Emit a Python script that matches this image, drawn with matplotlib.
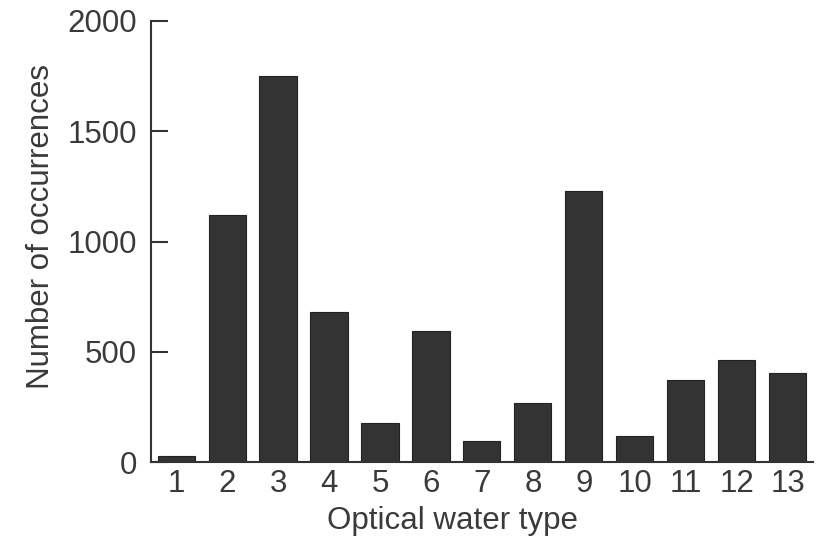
import matplotlib
matplotlib.use('Agg')
import matplotlib.pyplot as plt

# occurrences of each optical water type
water_types = list(range(1, 14))
occurrences = [30, 1122, 1750, 680, 177, 594, 95, 268, 1228, 118, 372, 462, 403]
yticks = [0, 500, 1000, 1500, 2000]

plt.rcParams['font.family'] = ['Liberation Sans', 'DejaVu Sans']
text_color = '#3a3a3a'
fs = 22.5

fig = plt.figure(figsize=(8.28, 5.38), dpi=100)
ax = fig.add_axes([0.182, 0.141, 0.800, 0.820])

ax.bar(water_types, occurrences, width=0.73, color='#333333',
       edgecolor='#222222', linewidth=0.8)

ax.set_xlim(0.5, 13.5)
ax.set_ylim(0, 2000)
ax.set_xticks(water_types)
ax.set_yticks(yticks)

for side in ['top', 'right']:
    ax.spines[side].set_visible(False)
for side in ['left', 'bottom']:
    ax.spines[side].set_color('#333333')
    ax.spines[side].set_linewidth(1.5)

ax.tick_params(axis='y', direction='in', length=12, width=1.5,
               color='#333333', labelsize=fs, labelcolor=text_color, pad=10)
ax.tick_params(axis='x', length=0, labelsize=fs, labelcolor=text_color, pad=5)

ax.set_xlabel('Optical water type', fontsize=fs, color=text_color)
ax.set_ylabel('Number of occurrences', fontsize=fs, color=text_color)
# labels sit a bit off the axes centre in the original
ax.xaxis.set_label_coords(0.456, -0.100)
ax.yaxis.set_label_coords(-0.143, 0.535)

fig.savefig('out.png', dpi=100)
